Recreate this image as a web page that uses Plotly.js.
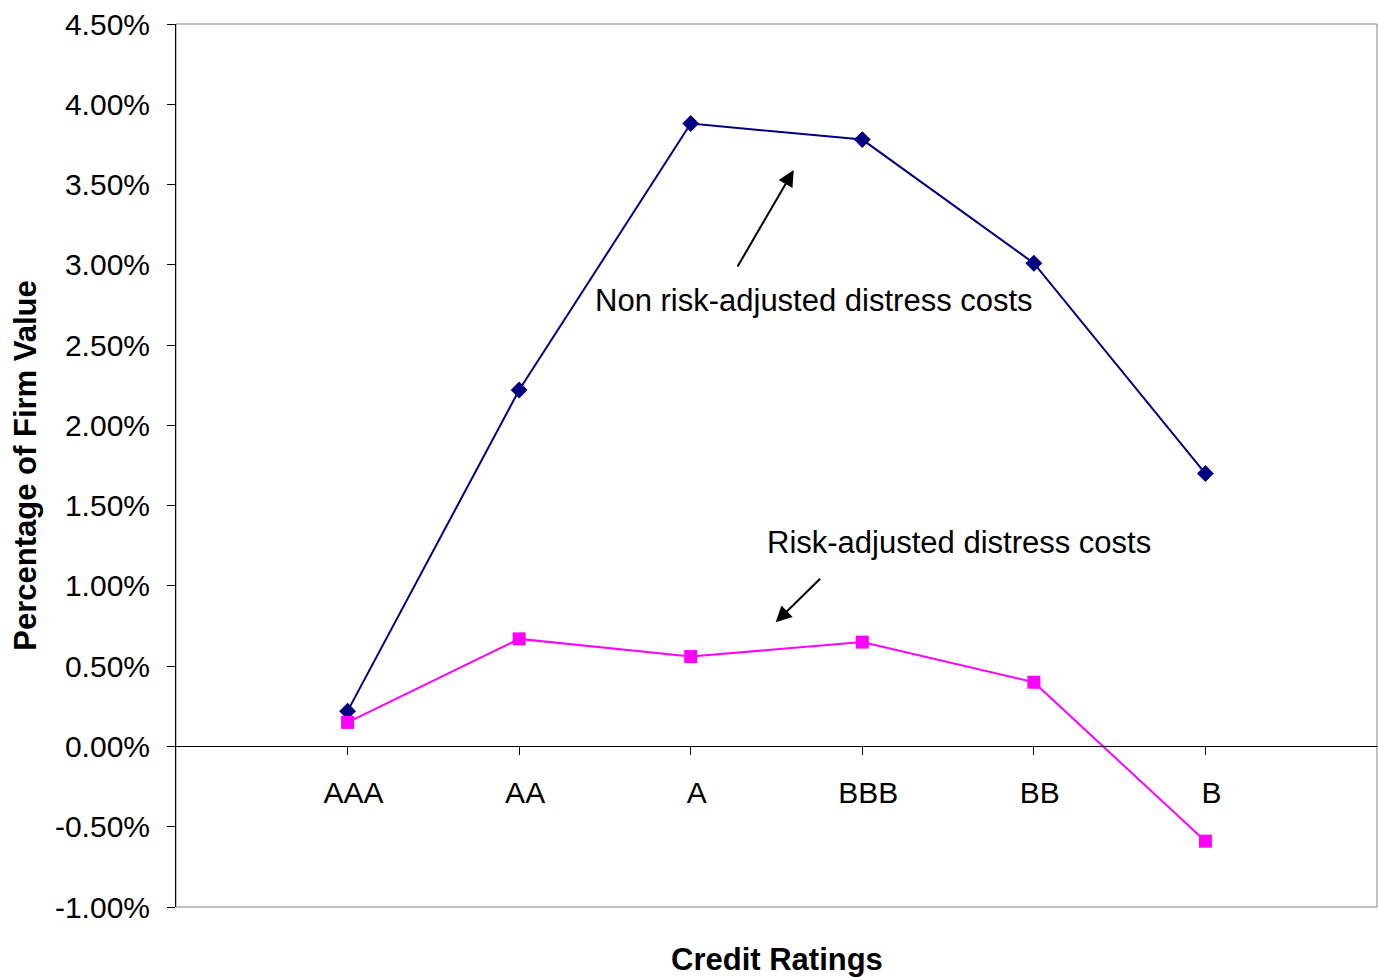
<!DOCTYPE html>
<html>
<head>
<meta charset="utf-8">
<script src="https://cdn.plot.ly/plotly-3.0.1.min.js"></script>
<style>html,body{margin:0;padding:0;background:#fff;}#chart{width:1378px;height:977px;}</style>
</head>
<body>
<div id="chart"></div>
<script>
// ---- data ----
var ratings = ["AAA", "AA", "A", "BBB", "BB", "B"];
var nonRiskAdjusted = [0.22, 2.22, 3.88, 3.78, 3.01, 1.70];   // % of firm value
var riskAdjusted = [0.15, 0.67, 0.56, 0.65, 0.40, -0.59];       // % of firm value
var yTickValues = [-1.0, -0.5, 0.0, 0.5, 1.0, 1.5, 2.0, 2.5, 3.0, 3.5, 4.0, 4.5];
var seriesNames = ["Non risk-adjusted distress costs", "Risk-adjusted distress costs"];
var xTitle = "Credit Ratings";
var yTitle = "Percentage of Firm Value";

var FONT = "Liberation Sans, Arial, sans-serif";
var yLo = -1.0, yHi = 4.5;

var traces = [
  {
    x: ratings, y: nonRiskAdjusted, name: seriesNames[0], type: "scatter", mode: "lines+markers",
    line: {color: "#000080", width: 2},
    marker: {symbol: "diamond", size: 13, color: "#000080"}
  },
  {
    x: ratings, y: riskAdjusted, name: seriesNames[1], type: "scatter", mode: "lines+markers",
    line: {color: "#FF00FF", width: 2},
    marker: {symbol: "square", size: 13, color: "#FF00FF"}
  }
];

var layout = {
  width: 1378, height: 977,
  margin: {l: 176, r: 1, t: 24, b: 70, pad: 0},
  paper_bgcolor: "#ffffff", plot_bgcolor: "#ffffff",
  showlegend: false,
  font: {family: FONT, size: 30, color: "#000"},
  xaxis: {
    type: "category",
    range: [-1, 6],
    anchor: "free",
    position: (0 - yLo) / (yHi - yLo),
    showline: true, linecolor: "#000", linewidth: 1,
    ticks: "outside", ticklen: 8, tickcolor: "#000", tickwidth: 1,
    showgrid: false, zeroline: false,
    tickfont: {family: FONT, size: 30, color: "#000"},
    ticklabelstandoff: 12,
    ticklabelshift: 6
  },
  yaxis: {
    range: [yLo, yHi],
    tickvals: yTickValues,
    ticktext: yTickValues.map(function (v) { return v.toFixed(2) + "%"; }),
    showline: true, linecolor: "#000", linewidth: 1,
    ticks: "outside", ticklen: 8, tickcolor: "#000", tickwidth: 1,
    showgrid: false, zeroline: false,
    tickfont: {family: FONT, size: 30, color: "#000"},
    ticklabelstandoff: 11
  },
  shapes: [
    {type: "rect", xref: "paper", yref: "paper", x0: 0, x1: 1, y0: 0, y1: 1,
     line: {color: "#808080", width: 1}, layer: "below"}
  ],
  annotations: [
    {text: "<b>" + yTitle + "</b>", xref: "paper", yref: "paper", x: -0.1256, y: 0.5,
     textangle: -90, showarrow: false, xanchor: "center", yanchor: "middle",
     font: {family: FONT, size: 31, color: "#000"}},
    {text: "<b>" + xTitle + "</b>", xref: "paper", yref: "paper", x: 0.5, y: -0.0589,
     showarrow: false, xanchor: "center", yanchor: "middle",
     font: {family: FONT, size: 31, color: "#000"}},
    {text: seriesNames[0], xref: "x", yref: "y", x: 2.716, y: 2.78,
     showarrow: false, xanchor: "center", yanchor: "middle",
     font: {family: FONT, size: 31, color: "#000"}},
    {text: seriesNames[1], xref: "x", yref: "y", x: 3.562, y: 1.272,
     showarrow: false, xanchor: "center", yanchor: "middle",
     font: {family: FONT, size: 31, color: "#000"}},
    {text: "", xref: "x", yref: "y", x: 2.6, y: 3.59, showarrow: true,
     ax: -57, ay: 98, arrowhead: 2, arrowsize: 1.6, arrowwidth: 2, arrowcolor: "#000", standoff: 0, startstandoff: 0},
    {text: "", xref: "x", yref: "y", x: 2.495, y: 0.773, showarrow: true,
     ax: 46, ay: -45, arrowhead: 2, arrowsize: 1.6, arrowwidth: 2, arrowcolor: "#000", standoff: 0, startstandoff: 0}
  ]
};

Plotly.newPlot("chart", traces, layout, {displayModeBar: false, staticPlot: true});
</script>
</body>
</html>
